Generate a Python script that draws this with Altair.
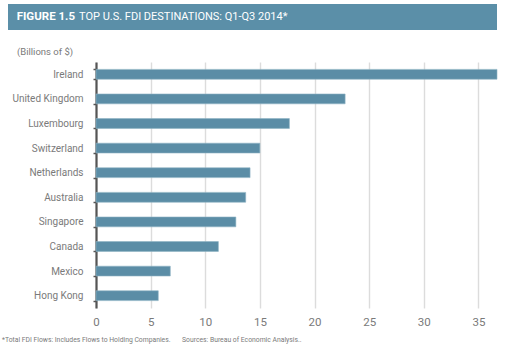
import altair as alt
import pandas as pd

countries = ["Ireland", "United Kingdom", "Luxembourg", "Switzerland", "Netherlands",
             "Australia", "Singapore", "Canada", "Mexico", "Hong Kong"]
values = [36.7, 22.8, 17.7, 15.0, 14.1, 13.7, 12.8, 11.2, 6.8, 5.7]
x_ticks = [0, 5, 10, 15, 20, 25, 30, 35]

title_bold = "FIGURE 1.5"
title_rest = "TOP U.S. FDI DESTINATIONS: Q1-Q3 2014*"
unit_label = "(Billions of $)"
note1 = "*Total FDI Flows: Includes Flows to Holding Companies."
note2 = "Sources: Bureau of Economic Analysis.."

FONT = "Roboto"
BLUE = "#5b8da6"
GRAY = "#7a7a7a"

df = pd.DataFrame({"country": countries, "value": values})

W, H = 401, 246

bars = alt.Chart(df).mark_bar(color=BLUE, stroke="#8fb3c4", strokeWidth=0.6).encode(
    x=alt.X("value:Q", scale=alt.Scale(domain=[0, 36.7], nice=False, zero=True),
            axis=alt.Axis(values=x_ticks, title=None, domain=False, ticks=False,
                          grid=True, gridColor="#dcdcdc", gridWidth=1.4,
                          labelFont=FONT, labelFontSize=11.5, labelColor=GRAY,
                          labelPadding=8, labelFlush=False)),
    y=alt.Y("country:N", sort=countries,
            scale=alt.Scale(paddingInner=0.6, paddingOuter=0.3),
            axis=alt.Axis(title=None, domain=True, domainColor="#555555", domainWidth=2.2,
                          ticks=True, tickBand="extent", tickColor="#555555", tickSize=3,
                          tickWidth=1.5, labelFont=FONT, labelFontSize=10,
                          labelColor=GRAY, labelPadding=10, grid=False)),
)

one = pd.DataFrame({"k": [0]})

banner = alt.Chart(one).mark_rect(color="#5b8fa8").encode(
    x=alt.value(-88), x2=alt.value(401), y=alt.value(-58), y2=alt.value(-32)
)
t1 = alt.Chart(one).mark_text(align="right", baseline="middle", font=FONT, fontSize=11.5,
                              fontWeight="bold", color="white").encode(
    x=alt.value(-21), y=alt.value(-45), text=alt.value(title_bold))
t2 = alt.Chart(one).mark_text(align="left", baseline="middle", font=FONT, fontSize=11,
                              color="white").encode(
    x=alt.value(-17), y=alt.value(-45), text=alt.value(title_rest))
unit = alt.Chart(one).mark_text(align="left", baseline="middle", font=FONT, fontSize=9.5,
                                color=GRAY).encode(
    x=alt.value(-79), y=alt.value(-10), text=alt.value(unit_label))
n1 = alt.Chart(one).mark_text(align="left", baseline="middle", font=FONT, fontSize=6.8,
                              color=GRAY).encode(
    x=alt.value(-94), y=alt.value(278), text=alt.value(note1))
n2 = alt.Chart(one).mark_text(align="left", baseline="middle", font=FONT, fontSize=6.8,
                              color=GRAY).encode(
    x=alt.value(86), y=alt.value(278), text=alt.value(note2))

chart = alt.layer(bars, banner, t1, t2, unit, n1, n2).properties(
    width=W, height=H,
    autosize=alt.AutoSizeParams(type="none"),
    padding={"left": 96, "top": 62, "right": 9, "bottom": 42},
    background="white",
).configure_view(stroke=None)

chart.save("out.html", embed_options={"renderer": "svg", "actions": False})
